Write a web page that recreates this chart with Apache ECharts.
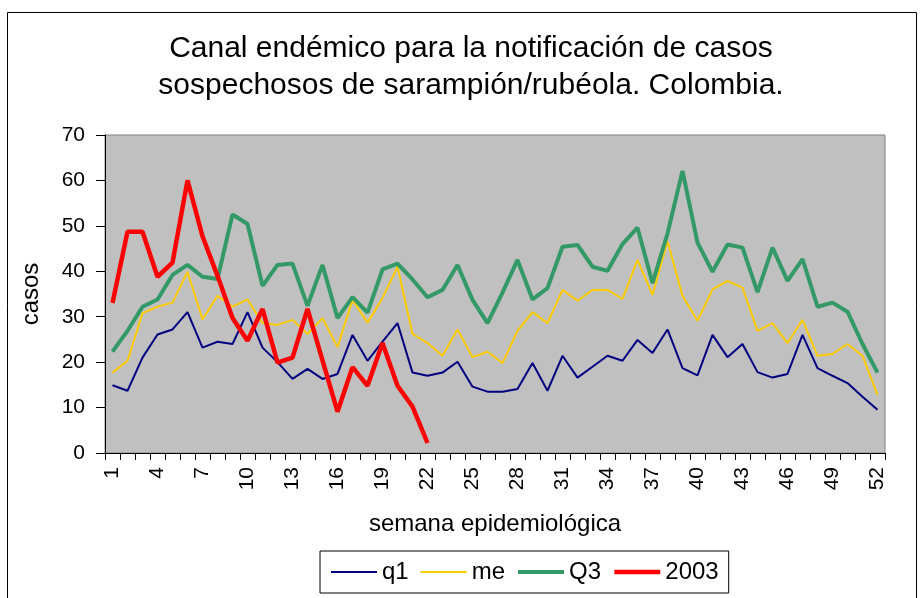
<!DOCTYPE html>
<html>
<head>
<meta charset="utf-8">
<script src="https://cdn.jsdelivr.net/npm/echarts@6/dist/echarts.min.js"></script>
<style>html,body{margin:0;padding:0;background:#fff;}#c{width:920px;height:598px;}</style>
</head>
<body>
<div id="c"></div>
<script>
const weeks = ['1','2','3','4','5','6','7','8','9','10','11','12','13','14','15','16','17','18','19','20','21','22','23','24','25','26','27','28','29','30','31','32','33','34','35','36','37','38','39','40','41','42','43','44','45','46','47','48','49','50','51','52'];
const q1 = [14.9,13.7,21.0,26.1,27.2,31.0,23.2,24.5,24.0,31.0,23.2,20.0,16.3,18.5,16.3,17.4,26.0,20.3,24.5,28.6,17.7,17.0,17.7,20.1,14.6,13.5,13.5,14.1,19.8,13.7,21.4,16.6,19.0,21.4,20.3,24.9,22.0,27.2,18.7,17.1,26.0,21.1,24.0,17.8,16.6,17.4,26.0,18.7,17.0,15.4,12.4,9.5];
const me = [17.7,20.3,30.8,32.2,33.1,39.9,29.4,34.6,32.2,33.8,28.6,28.2,29.3,26.2,29.7,23.3,33.7,28.7,34.1,41.0,26.2,24.2,21.4,27.2,21.1,22.3,19.8,26.9,31.0,28.6,35.9,33.5,35.9,35.9,33.9,42.5,34.8,46.6,34.6,29.1,36.0,37.9,36.4,26.9,28.6,24.2,29.3,21.4,21.8,24.0,21.4,12.8];
const Q3 = [22.3,26.9,32.2,33.8,39.2,41.4,38.8,38.3,52.5,50.4,36.8,41.4,41.7,32.4,41.4,29.7,34.3,30.9,40.4,41.7,38.2,34.3,35.9,41.4,33.7,28.6,35.3,42.5,33.8,36.3,45.4,45.8,41.0,40.1,46.0,49.6,37.4,48.3,62.1,46.3,39.9,45.9,45.2,35.4,45.2,37.9,42.7,32.2,33.1,31.1,24.0,17.7];
const y2003 = [33.0,48.7,48.7,38.8,41.9,60.0,47.7,39.0,29.7,24.7,31.7,19.9,21.0,31.7,20.4,9.1,18.9,14.8,24.2,14.8,10.2,2.2];
const yTicks = {min:0, max:70, interval:10};

const FONT = '"Liberation Sans", Arial, sans-serif';
const chart = echarts.init(document.getElementById('c'), null, {renderer:'canvas'});
chart.setOption({
  animation:false,
  backgroundColor:'#ffffff',
  title:{
    text:'Canal endémico para la notificación de casos\nsospechosos de sarampión/rubéola. Colombia.',
    left:471, top:30, textAlign:'center', padding:0,
    textStyle:{fontFamily:FONT, fontSize:30, fontWeight:'normal', color:'#000', lineHeight:37}
  },
  graphic:[{type:'rect', left:5, top:10, silent:true, z:-1,
    shape:{x:0,y:0,width:909,height:600}, style:{fill:'none', stroke:'#000', lineWidth:1}}],
  grid:{left:105, top:135, width:780, height:318, show:true, backgroundColor:'#C0C0C0', borderColor:'#808080', borderWidth:1},
  legend:{
    left:320, top:551, padding:[9,10,9,10], itemGap:11, itemWidth:46, itemHeight:14,
    borderColor:'#000', borderWidth:1, backgroundColor:'#fff',
    itemStyle:{opacity:0},
    textStyle:{fontFamily:FONT, fontSize:24, color:'#000'},
    data:[
      {name:'q1', lineStyle:{width:2}},
      {name:'me', lineStyle:{width:2}},
      {name:'Q3', lineStyle:{width:4}},
      {name:'2003', lineStyle:{width:4.5}}
    ]
  },
  xAxis:{
    type:'category', data:weeks, boundaryGap:true,
    name:'semana epidemiológica', nameLocation:'middle', nameGap:59,
    nameTextStyle:{fontFamily:FONT, fontSize:24, color:'#000'},
    axisLine:{lineStyle:{color:'#000', width:1}},
    axisTick:{show:true, interval:0, length:7, alignWithLabel:false, lineStyle:{color:'#000'}},
    axisLabel:{interval:2, rotate:90, margin:14, fontFamily:FONT, fontSize:21, color:'#000'},
    splitLine:{show:false}
  },
  yAxis:{
    type:'value', min:yTicks.min, max:yTicks.max, interval:yTicks.interval,
    name:'casos', nameLocation:'middle', nameGap:62,
    nameTextStyle:{fontFamily:FONT, fontSize:24, color:'#000'},
    axisLine:{show:true, lineStyle:{color:'#000', width:1}},
    axisTick:{show:true, length:9, lineStyle:{color:'#000'}},
    axisLabel:{margin:20, fontFamily:FONT, fontSize:21, color:'#000'},
    splitLine:{show:false}
  },
  series:[
    {name:'q1', type:'line', data:q1, symbol:'none', lineStyle:{color:'#000080', width:2}, itemStyle:{color:'#000080'}, z:2},
    {name:'me', type:'line', data:me, symbol:'none', lineStyle:{color:'#FFCC00', width:2}, itemStyle:{color:'#FFCC00'}, z:3},
    {name:'Q3', type:'line', data:Q3, symbol:'none', lineStyle:{color:'#339966', width:4}, itemStyle:{color:'#339966'}, z:4},
    {name:'2003', type:'line', data:y2003, symbol:'none', lineStyle:{color:'#FF0000', width:4.5}, itemStyle:{color:'#FF0000'}, z:5}
  ]
});
</script>
</body>
</html>
